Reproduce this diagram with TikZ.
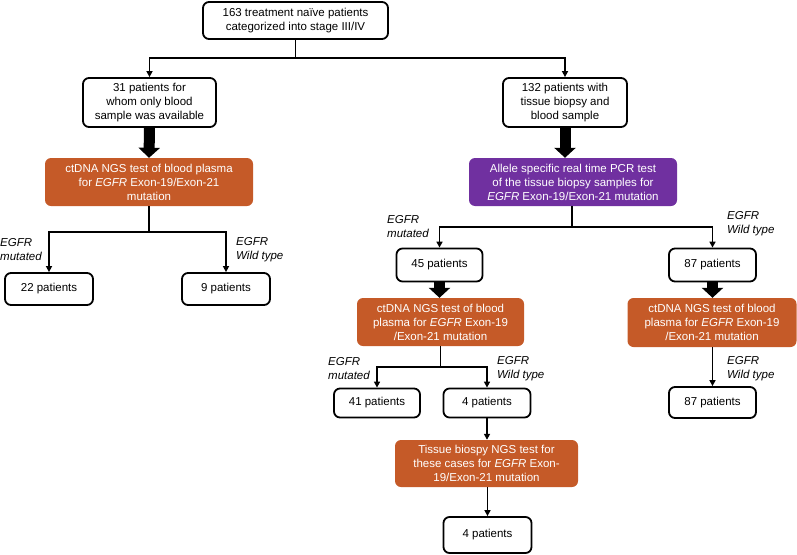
\documentclass[tikz,border=0pt]{standalone}
\usepackage{fontspec}
\setmainfont{Liberation Sans}
\usetikzlibrary{arrows.meta,positioning}
\definecolor{orng}{HTML}{C55A28}
\definecolor{purp}{HTML}{7030A0}
\tikzset{
  base/.style={align=center, inner sep=0pt, font=\fontsize{11.5}{14}\selectfont, rounded corners=6pt},
  wbox/.style={base, draw=black, line width=1.8pt, fill=white},
  obox/.style={base, fill=orng, text=white},
  pbox/.style={base, fill=purp, text=white},
  conn/.style={draw=black, line width=1.8pt, -{Triangle[length=6pt,width=6pt]}},
  stemline/.style={draw=black, line width=1.8pt},
  fat/.style={line width=11pt, -{Triangle[length=10pt,width=21pt]}},
  lab/.style={align=left, inner sep=0pt, anchor=west, font=\fontsize{11.5}{14}\selectfont\itshape},
}
\begin{document}
\begin{tikzpicture}[x=1pt,y=-1pt]
\useasboundingbox (0,0) rectangle (797,554);
% nodes
\node[wbox, minimum width=185pt, minimum height=37pt] (top) at (295.5,20.5) {163 treatment na\"ive patients\\categorized into stage III/IV};
\node[wbox, minimum width=133pt, minimum height=49pt] (b31) at (149.5,102.5) {31 patients for\\whom only blood\\sample was available};
\node[wbox, minimum width=124pt, minimum height=49pt] (b132) at (565,102.5) {132 patients with\\tissue biopsy and\\blood sample};
\node[obox, minimum width=208pt, minimum height=48pt] (o1) at (149,182) {ctDNA NGS test of blood plasma\\for \textit{EGFR} Exon-19/Exon-21\\mutation};
\node[pbox, minimum width=208pt, minimum height=48pt] (pp) at (573,182) {Allele specific real time PCR test\\of the tissue biopsy samples for\\\textit{EGFR} Exon-19/Exon-21 mutation};
\node[wbox, minimum width=88pt, minimum height=32pt] (b22) at (49,289) {22 patients};
\node[wbox, minimum width=88pt, minimum height=32pt] (b9) at (226,289) {9 patients};
\node[wbox, minimum width=86pt, minimum height=33pt] (b45) at (439.5,265) {45 patients};
\node[wbox, minimum width=87pt, minimum height=33pt] (b87) at (712.5,265) {87 patients};
\node[obox, minimum width=167pt, minimum height=48pt] (o2) at (440.5,322) {ctDNA NGS test of blood\\plasma for \textit{EGFR} Exon-19\\/Exon-21 mutation};
\node[obox, minimum width=169pt, minimum height=49pt] (o4) at (712,322.5) {ctDNA NGS test of blood\\plasma for \textit{EGFR} Exon-19\\/Exon-21 mutation};
\node[wbox, minimum width=86pt, minimum height=29pt] (b41) at (377,403) {41 patients};
\node[wbox, minimum width=87pt, minimum height=29pt] (b4a) at (487,403) {4 patients};
\node[wbox, minimum width=87pt, minimum height=31pt] (b87b) at (712.5,402.5) {87 patients};
\node[obox, minimum width=183pt, minimum height=47pt] (o3) at (486.5,463.5) {Tissue biospy NGS test for\\these cases for \textit{EGFR} Exon-\\19/Exon-21 mutation};
\node[wbox, minimum width=88pt, minimum height=36pt] (b4b) at (487.5,535) {4 patients};
% labels
\node[lab] (l1) at (0,250) {EGFR\\mutated};
\node[lab] (l2) at (236,250) {EGFR\\Wild type};
\node[lab] (l3) at (387,226.5) {EGFR\\mutated};
\node[lab] (l4) at (727,223.5) {EGFR\\Wild type};
\node[lab] (l5) at (328,369) {EGFR\\mutated};
\node[lab] (l6) at (497,369) {EGFR\\Wild type};
\node[lab] (l7) at (727,369) {EGFR\\Wild type};
% junctions
\coordinate (j0) at (top.south |- 0,58);
\coordinate (j1) at (o1.south |- 0,232);
\coordinate (j2) at (572,227);
\coordinate (j3) at (o2.south |- 0,367);
% connectors
\draw[stemline] (top.south) -- (j0);
\draw[conn] (j0) -| (b31.north);
\draw[conn] (j0) -| (b132.north);
\draw[fat] (b31.south) -- (o1.north);
\draw[fat] (b132.south) -- (b132.south |- pp.north);
\draw[stemline] (o1.south) -- (j1);
\draw[conn] (j1) -| (b22.north);
\draw[conn] (j1) -| (b9.north);
\draw[stemline] (pp.south -| j2) -- (j2);
\draw[conn] (j2) -| (b45.north);
\draw[conn] (j2) -| (b87.north);
\draw[fat] (b45.south) -- (b45.south |- o2.north);
\draw[fat] (b87.south) -- (b87.south |- o4.north);
\draw[stemline] (o2.south) -- (j3);
\draw[conn] (j3) -| (b41.north);
\draw[conn] (j3) -| (b4a.north);
\draw[conn] (o4.south -| b87b.north) -- (b87b.north);
\draw[conn] (b4a.south) -- (b4a.south |- o3.north);
\draw[conn] (o3.south -| b4b.north) -- (b4b.north);
\end{tikzpicture}
\end{document}
